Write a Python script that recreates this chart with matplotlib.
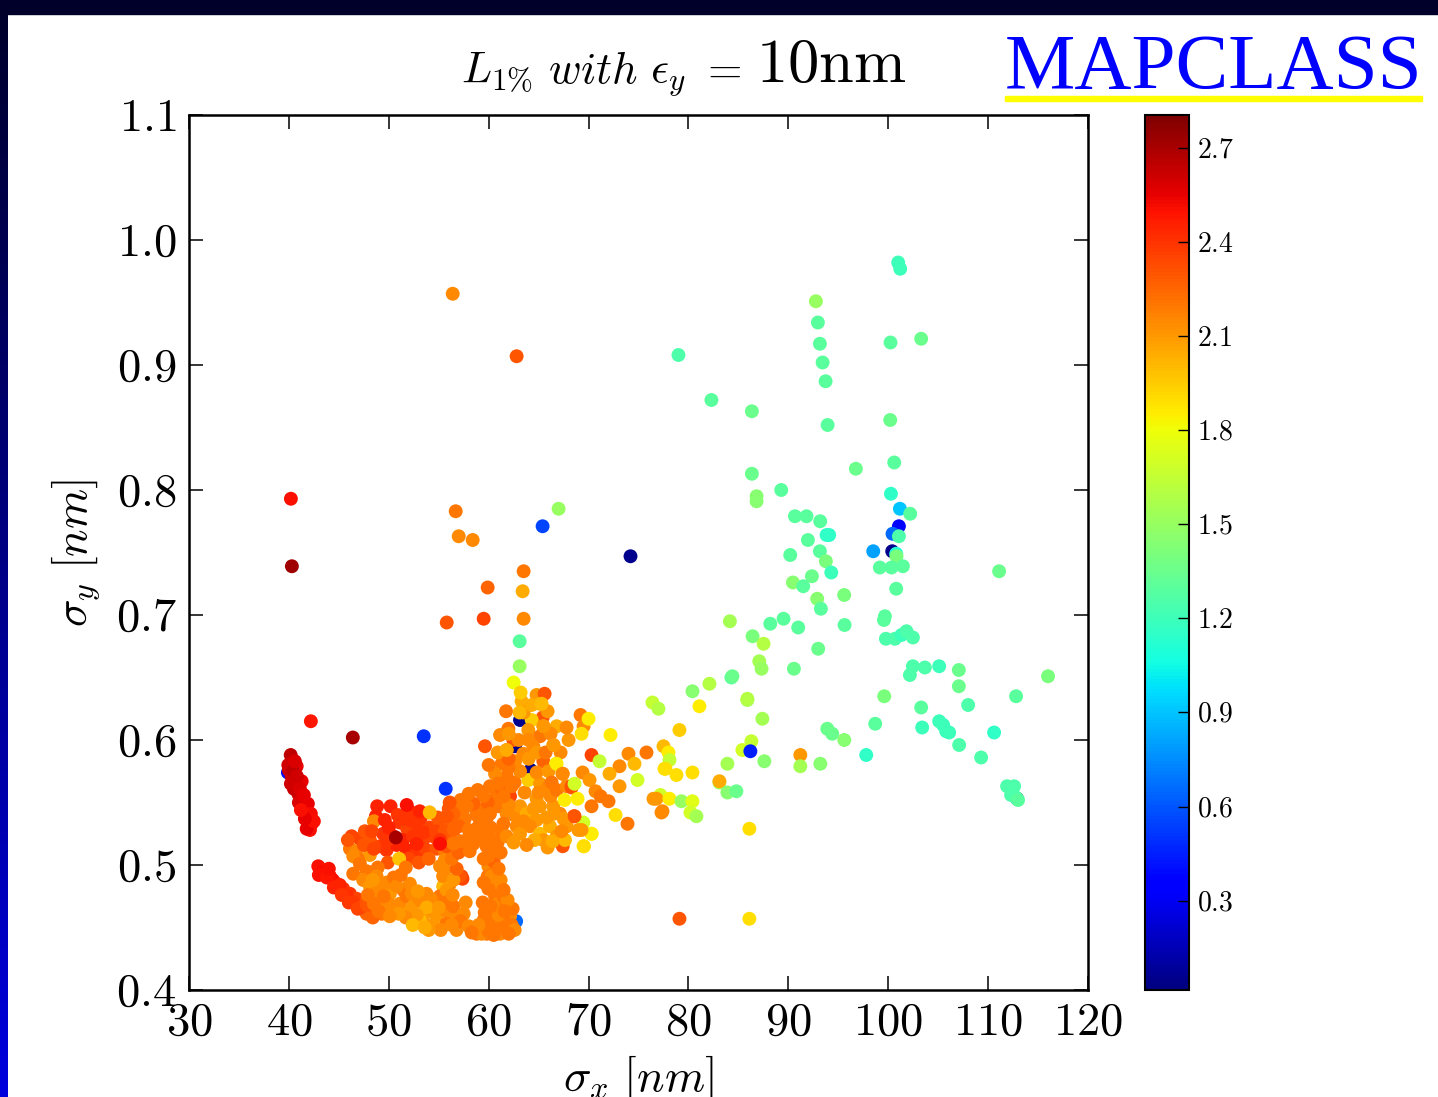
import numpy as np
import matplotlib
matplotlib.use("Agg")
import matplotlib.pyplot as plt
from matplotlib.patches import Rectangle
from matplotlib.ticker import FuncFormatter

plt.rcParams['mathtext.fontset'] = 'cm'
plt.rcParams['font.family'] = ['Liberation Serif', 'DejaVu Serif']

# (sigma_x [nm], sigma_y [nm], L_1% value)
left_streak = [
    (40.2, 0.793, 2.50), (40.3, 0.739, 2.72), (42.2, 0.615, 2.48), (46.4, 0.602, 2.70),
    (39.9, 0.574, 0.40), (40.5, 0.567, 0.05),
    (40.18, 0.588, 2.65), (39.94, 0.580, 2.60), (40.78, 0.579, 2.55), (40.28, 0.571, 2.62),
    (40.61, 0.565, 2.60), (41.28, 0.567, 2.55), (40.94, 0.557, 2.60), (41.28, 0.552, 2.58),
    (41.61, 0.547, 2.55), (41.94, 0.540, 2.55), (42.28, 0.533, 2.50), (42.11, 0.528, 2.50),
    (41.78, 0.529, 2.55), (40.5, 0.561, 2.62), (41.0, 0.550, 2.58), (40.2, 0.565, 2.60),
    (40.0, 0.576, 2.60), (40.4, 0.575, 2.65), (40.8, 0.571, 2.60), (41.1, 0.561, 2.58),
    (41.5, 0.556, 2.55), (41.9, 0.549, 2.55), (42.2, 0.541, 2.52), (42.5, 0.535, 2.50),
    (41.6, 0.537, 2.55), (40.6, 0.583, 2.58), (41.2, 0.544, 2.50),
]

low_streak = [
    (42.94, 0.499, 2.50), (43.61, 0.496, 2.50), (44.11, 0.491, 2.48), (44.78, 0.485, 2.45),
    (45.44, 0.481, 2.40), (46.11, 0.477, 2.40), (46.78, 0.473, 2.35), (47.44, 0.469, 2.30),
    (48.11, 0.465, 2.30), (47.78, 0.461, 2.25), (43.3, 0.494, 2.52), (44.4, 0.488, 2.50),
    (45.1, 0.484, 2.45), (45.8, 0.476, 2.42), (46.5, 0.470, 2.38), (47.2, 0.466, 2.32),
    (48.6, 0.463, 2.25), (49.3, 0.461, 2.20),
    (43.0, 0.492, 2.50), (43.8, 0.490, 2.48), (44.5, 0.482, 2.45), (45.3, 0.476, 2.40),
    (46.0, 0.470, 2.38), (46.9, 0.465, 2.35), (47.8, 0.468, 2.30), (48.4, 0.458, 2.25),
    (44.0, 0.497, 2.50),
]

upper_red = [
    (48.84, 0.547, 2.45), (50.18, 0.547, 2.45), (52.11, 0.543, 2.40), (54.04, 0.542, 2.00),
    (48.71, 0.539, 2.45), (48.51, 0.535, 2.15),
    (51.1, 0.534, 2.40), (51.84, 0.529, 2.35), (53.04, 0.531, 2.40), (54.04, 0.530, 2.35),
    (55.11, 0.532, 2.30), (56.28, 0.534, 2.25), (57.61, 0.537, 2.20), (58.78, 0.540, 2.20),
    (59.78, 0.537, 2.20),
    (46.28, 0.523, 2.35), (47.11, 0.521, 2.35), (48.11, 0.520, 2.30), (49.44, 0.525, 2.40),
    (50.44, 0.523, 2.45), (51.44, 0.520, 2.45), (52.44, 0.523, 2.40), (53.44, 0.520, 2.35),
    (54.44, 0.523, 2.35), (55.44, 0.520, 2.30), (56.44, 0.523, 2.25), (57.44, 0.517, 2.20),
    (58.44, 0.517, 2.25), (59.44, 0.520, 2.20),
    (46.11, 0.513, 2.20), (46.78, 0.511, 2.15), (48.11, 0.508, 2.10), (49.11, 0.515, 2.35),
    (49.78, 0.512, 2.40), (50.78, 0.516, 2.45), (51.78, 0.512, 2.45), (52.78, 0.509, 2.40),
    (53.78, 0.512, 2.35), (54.78, 0.513, 2.30), (55.61, 0.511, 2.20), (55.61, 0.504, 2.15),
    (55.61, 0.496, 2.15), (57.28, 0.491, 2.35), (56.11, 0.485, 2.20), (55.44, 0.483, 2.00),
    (55.44, 0.491, 2.15),
    (47.5, 0.516, 2.30), (48.5, 0.513, 2.35), (49.8, 0.519, 2.40), (50.0, 0.530, 2.45),
    (50.9, 0.540, 2.40), (51.6, 0.537, 2.40), (52.3, 0.535, 2.40), (52.8, 0.517, 2.45),
    (53.5, 0.526, 2.40), (54.7, 0.527, 2.35), (55.6, 0.527, 2.30), (56.5, 0.528, 2.25),
    (57.0, 0.531, 2.25), (58.0, 0.528, 2.20), (58.9, 0.530, 2.20), (59.2, 0.544, 2.20),
    (49.6, 0.536, 2.45), (53.2, 0.538, 2.40), (54.9, 0.538, 2.30), (56.0, 0.545, 2.30),
    (57.2, 0.547, 2.25), (58.3, 0.523, 2.20), (52.0, 0.505, 2.35), (53.0, 0.502, 2.30),
    (54.0, 0.505, 2.25), (49.9, 0.502, 2.30), (48.9, 0.498, 2.20), (47.8, 0.495, 2.20),
    (46.9, 0.505, 2.20), (45.9, 0.520, 2.30), (47.6, 0.527, 2.30), (48.3, 0.527, 2.35),
    (51.8, 0.548, 2.50), (53.1, 0.543, 2.45),
    (50.71, 0.522, 2.70), (51.04, 0.505, 1.98),
]

low_orange = [
    (46.44, 0.507, 2.15), (47.11, 0.501, 2.20), (46.44, 0.493, 2.20), (47.44, 0.488, 2.15),
    (48.11, 0.483, 2.10), (48.78, 0.491, 2.15), (49.44, 0.483, 2.15), (50.11, 0.477, 2.10),
    (49.11, 0.472, 2.15), (49.78, 0.467, 2.15), (50.44, 0.463, 2.10), (51.11, 0.469, 2.15),
    (51.44, 0.480, 2.20), (52.11, 0.485, 2.15), (51.78, 0.475, 2.20), (52.44, 0.467, 2.10),
    (53.11, 0.472, 2.15), (53.78, 0.477, 2.15), (53.44, 0.459, 2.10), (54.44, 0.464, 2.15),
    (55.11, 0.475, 2.20), (54.78, 0.459, 2.10), (55.78, 0.463, 2.15), (56.44, 0.459, 2.15),
    (56.78, 0.448, 2.15), (55.78, 0.453, 2.20), (54.44, 0.452, 2.10), (53.11, 0.456, 2.00),
    (52.11, 0.463, 2.10), (50.78, 0.464, 2.15), (57.38, 0.489, 2.35), (57.13, 0.491, 2.30),
    (56.47, 0.467, 2.20), (56.8, 0.453, 2.15), (55.13, 0.499, 2.15), (56.47, 0.488, 2.10),
    (55.8, 0.480, 2.10),
    (48.8, 0.478, 2.15), (49.8, 0.486, 2.15), (50.5, 0.490, 2.20), (50.8, 0.483, 2.15),
    (51.2, 0.492, 2.20), (51.7, 0.498, 2.20), (52.3, 0.477, 2.15), (52.9, 0.479, 2.10),
    (54.2, 0.473, 2.15), (55.7, 0.470, 2.20), (56.4, 0.476, 2.15), (57.7, 0.470, 2.15),
    (57.5, 0.461, 2.15), (57.2, 0.455, 2.20), (56.3, 0.452, 2.15), (55.2, 0.448, 2.15),
    (54.0, 0.448, 2.10), (53.8, 0.466, 2.05), (52.8, 0.460, 2.10), (51.7, 0.458, 2.15),
    (51.0, 0.461, 2.10), (50.0, 0.469, 2.15), (49.5, 0.475, 2.20), (48.5, 0.469, 2.20),
    (49.0, 0.463, 2.20), (50.1, 0.459, 2.15), (52.4, 0.452, 2.00), (53.6, 0.450, 2.05),
    (55.0, 0.466, 2.10), (47.9, 0.476, 2.20), (48.4, 0.488, 2.10), (56.8, 0.497, 2.25),
    (56.3, 0.505, 2.20), (57.0, 0.510, 2.25), (58.1, 0.511, 2.20),
]

column = [
    (62.75, 0.455, 0.65),
    (60.13, 0.515, 2.20), (60.30, 0.507, 2.20), (59.97, 0.499, 2.15), (60.47, 0.493, 2.20),
    (60.13, 0.488, 2.20), (60.80, 0.483, 2.15), (59.97, 0.481, 2.20), (60.64, 0.475, 2.20),
    (60.97, 0.469, 2.15), (61.47, 0.475, 2.20), (61.8, 0.467, 2.20), (62.14, 0.459, 2.15),
    (61.47, 0.456, 2.20), (60.8, 0.453, 2.15), (60.13, 0.451, 2.20), (59.47, 0.448, 2.15),
    (58.8, 0.445, 2.20), (59.8, 0.445, 2.20), (61.14, 0.445, 2.15), (61.8, 0.448, 2.20),
    (58.0, 0.451, 2.15), (58.6, 0.447, 2.20), (59.3, 0.445, 2.15), (60.0, 0.447, 2.20),
    (61.4, 0.452, 2.20), (62.0, 0.458, 2.15), (62.4, 0.465, 2.20), (61.9, 0.472, 2.15),
    (59.5, 0.456, 2.20), (60.3, 0.460, 2.20), (60.5, 0.503, 2.25), (60.0, 0.507, 2.20),
    (59.9, 0.491, 2.20), (59.78, 0.515, 2.20), (60.28, 0.491, 2.15), (61.44, 0.459, 2.20),
    (59.4, 0.470, 2.20), (59.6, 0.462, 2.20), (61.0, 0.460, 2.15), (61.6, 0.463, 2.20),
    (62.3, 0.452, 2.20), (62.6, 0.448, 2.15), (62.0, 0.445, 2.20), (60.5, 0.444, 2.20),
    (59.0, 0.452, 2.15), (58.3, 0.446, 2.20), (59.5, 0.486, 2.20), (61.2, 0.488, 2.15),
    (61.0, 0.497, 2.20), (59.5, 0.505, 2.20), (61.2, 0.510, 2.20), (60.9, 0.518, 2.20),
    (61.3, 0.527, 2.20), (60.2, 0.530, 2.20), (62.5, 0.540, 2.15), (61.0, 0.547, 2.20),
    (60.8, 0.556, 2.20), (59.9, 0.550, 2.25), (61.5, 0.480, 2.20), (60.2, 0.467, 2.20),
]

bridge = [
    (60.13, 0.563, 2.20), (59.47, 0.555, 2.20), (58.47, 0.549, 2.25), (57.8, 0.547, 2.20),
    (57.13, 0.544, 2.20), (56.47, 0.541, 2.25), (55.8, 0.539, 2.30),
    (62.14, 0.555, 2.35), (63.14, 0.547, 2.10), (61.8, 0.541, 2.15), (63.8, 0.541, 2.05),
    (64.81, 0.536, 2.10), (64.14, 0.531, 2.15), (62.8, 0.531, 2.15), (61.47, 0.533, 2.20),
    (60.13, 0.541, 2.20), (59.13, 0.536, 2.20), (59.47, 0.525, 2.20), (60.47, 0.520, 2.20),
    (61.8, 0.523, 2.15), (63.14, 0.525, 2.10), (65.14, 0.525, 2.00), (66.14, 0.531, 2.05),
    (66.81, 0.523, 2.10), (65.47, 0.520, 2.10), (67.81, 0.531, 2.10), (67.14, 0.541, 2.15),
    (66.47, 0.547, 2.10), (65.14, 0.547, 2.10), (67.41, 0.515, 2.30), (67.64, 0.520, 2.00),
    (68.54, 0.539, 2.30), (69.48, 0.534, 1.70), (68.98, 0.528, 2.10), (70.31, 0.525, 1.85),
    (69.54, 0.515, 1.90),
    (55.13, 0.520, 2.40), (55.8, 0.515, 2.30), (56.47, 0.517, 2.20), (57.13, 0.519, 2.20),
    (57.8, 0.520, 2.20), (58.47, 0.517, 2.20), (55.13, 0.517, 2.50),
    (62.0, 0.548, 2.15), (63.5, 0.535, 2.15), (64.5, 0.545, 2.10), (65.8, 0.538, 2.10),
    (66.5, 0.541, 2.10), (67.5, 0.537, 2.10), (66.2, 0.555, 2.15), (64.8, 0.553, 2.10),
    (63.6, 0.558, 2.15), (62.6, 0.566, 2.20), (64.6, 0.520, 2.05), (63.8, 0.516, 2.15),
    (62.5, 0.518, 2.10), (65.9, 0.514, 2.10), (66.4, 0.519, 2.05), (67.3, 0.527, 2.15),
    (58.0, 0.557, 2.20), (57.2, 0.552, 2.20), (58.9, 0.560, 2.20), (61.3, 0.561, 2.25),
]

upper_branch = [
    (63.14, 0.616, 0.05), (62.64, 0.595, 0.05), (64.2, 0.576, 0.05),
    (64.8, 0.636, 2.10), (65.14, 0.629, 2.05), (63.3, 0.631, 2.05), (61.74, 0.623, 2.20),
    (65.41, 0.618, 2.30), (64.31, 0.616, 1.95), (66.81, 0.611, 2.05), (65.47, 0.611, 2.10),
    (63.97, 0.608, 2.10), (61.97, 0.609, 2.20), (61.14, 0.604, 2.15), (62.47, 0.600, 2.30),
    (59.63, 0.595, 2.30), (65.14, 0.603, 2.20), (66.47, 0.596, 2.10), (64.47, 0.595, 2.15),
    (61.8, 0.592, 2.20), (63.47, 0.589, 2.15), (61.3, 0.581, 2.20), (62.64, 0.583, 2.15),
    (65.47, 0.583, 2.25), (66.74, 0.581, 1.85), (63.97, 0.568, 1.95), (63.14, 0.575, 2.15),
    (61.8, 0.571, 2.20), (60.64, 0.573, 2.15), (60.97, 0.565, 2.20), (62.3, 0.563, 2.20),
    (65.14, 0.565, 2.10), (65.97, 0.563, 2.15), (66.81, 0.560, 2.20), (67.81, 0.563, 2.15),
    (68.31, 0.563, 2.35), (67.41, 0.573, 2.15),
    (62.0, 0.578, 2.20), (63.0, 0.600, 2.15), (64.0, 0.585, 2.10), (64.8, 0.590, 2.10),
    (64.0, 0.600, 2.15), (63.5, 0.622, 2.10), (64.3, 0.628, 2.05), (65.9, 0.623, 2.10),
    (66.2, 0.605, 2.15), (65.7, 0.590, 2.20), (62.0, 0.585, 2.25), (60.0, 0.580, 2.20),
    (60.9, 0.590, 2.10), (64.8, 0.574, 2.15), (66.0, 0.575, 2.10), (67.2, 0.590, 2.15),
    (68.0, 0.600, 2.10), (67.8, 0.610, 2.15), (66.3, 0.566, 2.20), (65.0, 0.558, 2.15),
    (61.5, 0.555, 2.20),
    (62.5, 0.646, 1.80), (63.2, 0.638, 1.95), (65.6, 0.637, 2.30), (65.3, 0.629, 2.00),
    (63.1, 0.622, 2.00), (65.5, 0.611, 2.10), (62.0, 0.605, 2.10), (61.8, 0.592, 2.05),
]

mid = [
    (69.2, 0.620, 2.20), (69.5, 0.611, 2.15), (69.3, 0.605, 1.90), (70.0, 0.617, 1.85),
    (72.2, 0.604, 1.85), (66.5, 0.596, 2.10), (70.3, 0.588, 2.35), (71.1, 0.583, 1.65),
    (66.8, 0.581, 1.85), (74.0, 0.589, 2.15), (75.8, 0.590, 2.20), (74.6, 0.581, 2.00),
    (77.5, 0.595, 2.00), (78.0, 0.590, 1.85), (73.1, 0.579, 2.15), (72.1, 0.573, 2.05),
    (73.1, 0.563, 2.10), (74.9, 0.568, 1.70), (69.4, 0.574, 2.15), (67.4, 0.573, 2.15),
    (70.1, 0.568, 2.10), (68.3, 0.562, 2.30), (70.7, 0.559, 2.15), (71.2, 0.555, 2.20),
    (72.0, 0.551, 2.20), (70.3, 0.547, 2.20), (68.9, 0.553, 1.85), (67.6, 0.552, 1.85),
    (68.6, 0.565, 1.70), (76.5, 0.553, 2.10), (77.4, 0.543, 2.15), (72.7, 0.540, 1.90),
    (73.9, 0.533, 2.20), (70.3, 0.525, 1.85), (69.5, 0.515, 1.90), (68.6, 0.539, 2.30),
    (69.3, 0.528, 2.10), (54.1, 0.542, 2.00), (56.1, 0.550, 2.30), (55.7, 0.561, 0.50),
    (77.6, 0.577, 1.90), (78.8, 0.572, 1.90), (80.4, 0.574, 1.90), (83.1, 0.566, 1.55),
    (83.1, 0.567, 2.05),
    (79.1, 0.608, 1.95), (78.1, 0.584, 1.65), (77.7, 0.577, 1.90), (77.2, 0.556, 1.70),
    (76.8, 0.553, 2.10), (78.1, 0.553, 1.85), (77.3, 0.542, 2.15), (79.3, 0.551, 1.50),
    (80.4, 0.551, 1.75), (80.2, 0.542, 1.70), (80.8, 0.539, 1.55), (86.1, 0.529, 1.90),
    (86.1, 0.457, 1.90), (79.1, 0.457, 2.30),
    (76.4, 0.630, 1.65), (77.0, 0.625, 1.60), (81.1, 0.627, 1.85), (80.4, 0.639, 1.45),
    (82.1, 0.645, 1.60), (84.3, 0.650, 1.30), (85.9, 0.632, 1.55), (87.4, 0.617, 1.55),
    (85.4, 0.592, 1.70), (86.3, 0.599, 1.65), (86.2, 0.591, 0.45), (87.6, 0.583, 1.45),
    (91.2, 0.588, 2.10), (91.2, 0.579, 1.55), (93.2, 0.581, 1.45), (83.9, 0.581, 1.55),
    (83.9, 0.558, 1.45), (84.8, 0.559, 1.35),
]

upper_iso = [
    (56.4, 0.957, 2.15), (62.8, 0.907, 2.30), (56.7, 0.783, 2.20), (57.0, 0.763, 2.15),
    (58.4, 0.760, 2.15), (65.4, 0.771, 0.55), (67.0, 0.785, 1.50), (63.5, 0.735, 2.20),
    (59.9, 0.722, 2.25), (63.4, 0.719, 2.05), (55.8, 0.694, 2.30), (59.5, 0.697, 2.35),
    (63.5, 0.697, 2.15), (63.1, 0.679, 1.30), (63.1, 0.659, 1.50), (74.2, 0.747, 0.05),
    (53.5, 0.603, 0.50),
]

right = [
    (79.0, 0.908, 1.25), (82.3, 0.872, 1.30),
    (92.76, 0.951, 1.50), (92.96, 0.934, 1.30), (93.16, 0.917, 1.30), (93.43, 0.902, 1.30),
    (93.73, 0.887, 1.30), (86.35, 0.863, 1.35), (93.93, 0.852, 1.30), (100.23, 0.918, 1.30),
    (103.3, 0.921, 1.35), (100.2, 0.856, 1.35), (100.6, 0.822, 1.30), (96.76, 0.817, 1.35),
    (86.35, 0.813, 1.35), (89.29, 0.800, 1.30), (86.82, 0.795, 1.45), (86.82, 0.791, 1.45),
    (100.27, 0.797, 1.15), (101.17, 0.785, 0.90), (102.2, 0.781, 1.30), (100.4, 0.751, 0.05),
    (101.07, 0.771, 0.35), (100.43, 0.765, 0.65), (101.07, 0.763, 1.25), (98.5, 0.751, 0.80),
    (100.8, 0.749, 1.10), (100.83, 0.747, 1.40), (99.16, 0.738, 1.30), (100.33, 0.738, 1.30),
    (101.47, 0.739, 1.30), (100.8, 0.721, 1.30), (90.66, 0.779, 1.30), (91.82, 0.779, 1.30),
    (93.19, 0.775, 1.30), (93.83, 0.764, 1.15), (94.09, 0.764, 1.15), (91.96, 0.760, 1.30),
    (90.19, 0.748, 1.30), (93.16, 0.751, 1.30), (93.76, 0.743, 1.40), (94.3, 0.734, 1.20),
    (92.36, 0.731, 1.35), (90.46, 0.726, 1.45), (91.49, 0.723, 1.30), (92.89, 0.713, 1.45),
    (93.26, 0.705, 1.30), (95.59, 0.716, 1.40), (99.67, 0.699, 1.30), (99.57, 0.696, 1.30),
    (95.63, 0.692, 1.30), (84.15, 0.695, 1.55), (88.19, 0.693, 1.30), (89.52, 0.697, 1.30),
    (90.99, 0.690, 1.30), (86.42, 0.683, 1.40), (87.52, 0.677, 1.60), (92.99, 0.673, 1.35),
    (99.77, 0.681, 1.25), (100.67, 0.681, 1.25), (101.33, 0.684, 1.20), (101.83, 0.687, 1.25),
    (102.47, 0.682, 1.25), (87.09, 0.663, 1.55), (87.32, 0.657, 1.50), (90.56, 0.657, 1.35),
    (102.47, 0.659, 1.25), (102.17, 0.652, 1.25), (103.67, 0.658, 1.25), (105.1, 0.659, 1.20),
    (84.4, 0.651, 1.35), (85.9, 0.633, 1.60), (99.6, 0.635, 1.40), (107.07, 0.656, 1.35),
    (107.07, 0.643, 1.35),
    (101.0, 0.982, 1.20), (101.2, 0.977, 1.20),
    (98.7, 0.613, 1.30), (97.8, 0.588, 1.15), (93.9, 0.609, 1.35), (94.4, 0.605, 1.35),
    (95.6, 0.600, 1.45),
    (103.3, 0.626, 1.30), (103.4, 0.610, 1.20), (105.1, 0.615, 1.20), (105.5, 0.612, 1.20),
    (105.8, 0.607, 1.20), (106.1, 0.606, 1.20), (107.1, 0.596, 1.25), (108.0, 0.628, 1.25),
    (109.3, 0.586, 1.25), (110.6, 0.606, 1.15), (111.1, 0.735, 1.35), (112.8, 0.635, 1.30),
    (116.0, 0.651, 1.40), (112.9, 0.553, 0.05), (111.9, 0.563, 1.25), (112.6, 0.563, 1.25),
    (112.3, 0.556, 1.25), (112.8, 0.554, 1.25), (113.0, 0.552, 1.30),
]

x_ticks = [30, 40, 50, 60, 70, 80, 90, 100, 110, 120]
y_ticks = [0.4, 0.5, 0.6, 0.7, 0.8, 0.9, 1.0, 1.1]
cb_ticks = [0.3, 0.6, 0.9, 1.2, 1.5, 1.8, 2.1, 2.4, 2.7]
c_min, c_max = 0.015, 2.805

pts = np.array(left_streak + low_streak + upper_red + low_orange + column
               + bridge + upper_branch + mid + upper_iso + right)
sx, sy, lum = pts[:, 0], pts[:, 1], pts[:, 2]

W, H = 1438, 1097
fig = plt.figure(figsize=(W / 100, H / 100), dpi=100)

# slide frame: dark band on top, blue gradient down the left edge
fig.patches.append(Rectangle((0, 1 - 14 / H), 1, 14 / H, transform=fig.transFigure,
                             color='#00002a', zorder=0))
grad_ax = fig.add_axes([0, 0, 8 / W, 1 - 14 / H])
grad = np.zeros((256, 1, 3))
grad[:, 0, 2] = np.linspace(0.17, 0.87, 256)
grad_ax.imshow(grad, aspect='auto', origin='upper')
grad_ax.axis('off')

ax = fig.add_axes([189 / W, 1 - 990 / H, 899 / W, 875 / H])
sc = ax.scatter(sx, sy, c=lum, cmap='jet', vmin=c_min, vmax=c_max, s=100, linewidths=0)
ax.set_xlim(30, 120)
ax.set_ylim(0.4, 1.1)
ax.set_xticks(x_ticks)
ax.set_yticks(y_ticks)
ax.xaxis.set_major_formatter(FuncFormatter(lambda v, p: r'$%d$' % v))
ax.yaxis.set_major_formatter(FuncFormatter(lambda v, p: r'$%.1f$' % v))
ax.tick_params(direction='in', length=10, width=1.1, top=True, right=True,
               labelsize=33.5, pad=9)
for sp in ax.spines.values():
    sp.set_linewidth(1.8)
# the label runs off the bottom edge in the original slide as well
ax.set_xlabel(r'$\sigma_x\ [nm]$', fontsize=33, labelpad=6)
ax.set_ylabel(r'$\sigma_y\ [nm]$', fontsize=33, labelpad=10)

cax = fig.add_axes([1145 / W, 1 - 990 / H, 44 / W, 875 / H])
cb = fig.colorbar(sc, cax=cax, ticks=cb_ticks)
cb.ax.yaxis.set_major_formatter(FuncFormatter(lambda v, p: r'$%.1f$' % v))
cb.ax.tick_params(direction='in', length=8, width=1, labelsize=20, pad=6)
cb.outline.set_linewidth(1.5)

fig.text(741 / W, 1 - 82 / H, r'$L_{1\%}\ with\ \epsilon_y\ =$', ha='right',
         va='baseline', fontsize=32)
fig.text(756 / W, 1 - 82 / H, r'$\mathrm{10nm}$', ha='left', va='baseline', fontsize=45)

fig.text(1005 / W, 1 - 88 / H, 'MAPCLASS', color='#0000ff', fontsize=57,
         ha='left', va='baseline')
fig.patches.append(Rectangle((1005 / W, 1 - 101 / H), 417 / W, 5 / H,
                             transform=fig.transFigure, color='#ffff00', zorder=1))

fig.savefig('out.png', dpi=100)
